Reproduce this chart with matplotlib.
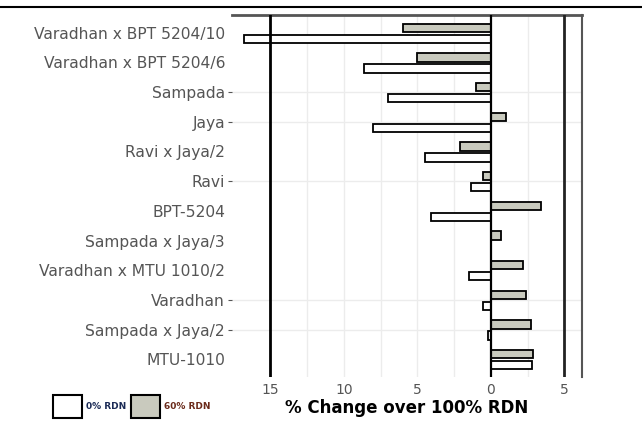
import matplotlib.pyplot as plt
from matplotlib.patches import Patch
from matplotlib.lines import Line2D
import numpy as np

# Genotipi (dall'alto in basso) e variazione % rispetto a 100% RDN
genotipi = ["Varadhan x BPT 5204/10", "Varadhan x BPT 5204/6", "Sampada", "Jaya",
            "Ravi x Jaya/2", "Ravi", "BPT-5204", "Sampada x Jaya/3",
            "Varadhan x MTU 1010/2", "Varadhan", "Sampada x Jaya/2", "MTU-1010"]
rdn_60 = [-6.0, -5.0, -1.0, 1.0, -2.1, -0.5, 3.4, 0.7, 2.2, 2.4, 2.75, 2.85]
rdn_0 = [-16.8, -8.6, -7.0, -8.0, -4.5, -1.35, -4.1, 0.0, -1.5, -0.5, -0.2, 2.8]
x_ticks = [-15, -10, -5, 0, 5]
x_tick_labels = ["15", "10", "5", "0", "5"]
righe_con_tick = ["Sampada", "Jaya", "Ravi", "Varadhan", "Sampada x Jaya/2"]

grigio = "#c9cabe"
y = np.arange(len(genotipi))

fig = plt.figure(figsize=(6.42, 4.32), dpi=100)
ax = fig.add_axes([232 / 642, 1 - 377 / 432, 350 / 642, 362 / 432])

# Griglia leggera
for xv in [-12.5, -10, -7.5, -5, -2.5, 2.5]:
    ax.axvline(xv, color="#ececec", lw=1, zorder=0)

ax.barh(y - 0.17, rdn_60, height=0.28, color=grigio, edgecolor="black", linewidth=1.3,
        label="60% RDN", zorder=3)
ax.barh(y + 0.2, rdn_0, height=0.28, color="white", edgecolor="black", linewidth=1.3,
        label="0% RDN", zorder=3)

# Linee verticali marcate
ax.axvline(-15, color="black", lw=2, zorder=4)
ax.axvline(0, color="black", lw=1.6, zorder=4)
ax.axvline(5, color="#222222", lw=2, zorder=4)

ax.set_xlim(-17.6, 6.2)
ax.set_ylim(len(genotipi) - 0.4, -0.6)
ax.set_yticks(y)
ax.set_yticklabels(genotipi, fontsize=11.2, color="#555555")
ax.set_xticks(x_ticks)
ax.set_xticklabels(x_tick_labels, fontsize=10, color="#555555")
ax.tick_params(axis="x", length=0, pad=4)
ax.tick_params(axis="y", length=3, color="#555555", pad=2)

ax.grid(axis="y", color="#ececec", lw=1, zorder=0)
for tick, nome in zip(ax.yaxis.get_major_ticks(), genotipi):
    visibile = nome in righe_con_tick
    tick.tick1line.set_visible(visibile)
    tick.gridline.set_visible(visibile)

ax.set_xlabel("% Change over 100% RDN", fontsize=12, fontweight="bold", labelpad=2)

ax.spines["left"].set_visible(False)
ax.spines["bottom"].set_visible(False)
ax.spines["top"].set_color("#555555")
ax.spines["top"].set_linewidth(2)
ax.spines["right"].set_color("#555555")
ax.spines["right"].set_linewidth(1.5)

# Linea in alto su tutta la figura
fig.add_artist(Line2D([0, 1], [1 - 7 / 432, 1 - 7 / 432], transform=fig.transFigure,
                      color="black", lw=1.5))

handles = [Patch(facecolor="white", edgecolor="black", linewidth=1.5),
           Patch(facecolor=grigio, edgecolor="black", linewidth=1.5)]
leg = fig.legend(handles, ["0% RDN", "60% RDN"], loc="lower left",
                 bbox_to_anchor=(45 / 642, 1 - 426 / 432), ncol=2, frameon=False,
                 handlelength=3.2, handleheight=3.6,
                 handletextpad=0.4, columnspacing=0.6, prop={"weight": "bold", "size": 6.5})
leg.get_texts()[0].set_color("#1a2a55")
leg.get_texts()[1].set_color("#6a2a1a")

fig.savefig("out.png", dpi=100)
